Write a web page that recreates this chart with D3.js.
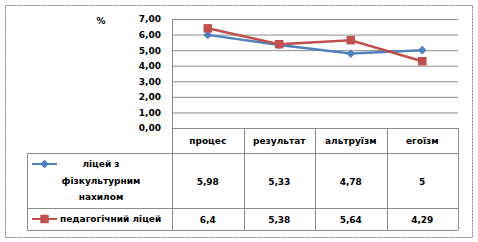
<!DOCTYPE html>
<html>
<head>
<meta charset="utf-8">
<script src="https://cdn.jsdelivr.net/npm/d3@7"></script>
<style>
  body { margin: 0; background: #fff; }
  text { font-family: "DejaVu Sans", sans-serif; font-weight: bold; font-size: 9px; fill: #000; }
</style>
</head>
<body>
<div id="chart"></div>
<script>
const categories = ["процес", "результат", "альтруїзм", "егоїзм"];
const seriesNames = [["ліцей з", "фізкультурним", "нахилом"], ["педагогічний ліцей"]];
const lyceumSport = [5.98, 5.33, 4.78, 5];
const lyceumPed = [6.4, 5.38, 5.64, 4.29];
const yTicks = [0, 1, 2, 3, 4, 5, 6, 7];

const width = 478;
const height = 242;
const plotLeft = 172, plotRight = 458, plotTop = 19, plotBottom = 128;
const legendLeft = 27;
const rowY = [128, 153, 208, 230];
const gridColor = "#8c8c8c";

const svg = d3.select("#chart").append("svg")
    .attr("width", width)
    .attr("height", height);

// chart area border
svg.append("rect")
    .attr("x", 5.5).attr("y", 5.5)
    .attr("width", 467).attr("height", 232)
    .attr("fill", "none")
    .attr("stroke", "#808080")
    .attr("stroke-dasharray", "2,1");

const x = d3.scaleBand().domain(categories).range([plotLeft, plotRight]);
const y = d3.scaleLinear().domain([0, 7]).range([plotBottom, plotTop]);

// gridlines + y labels
const yAxis = d3.axisLeft(y).tickValues(yTicks)
    .tickSize(-(plotRight - plotLeft))
    .tickPadding(11)
    .tickFormat(d => d3.format(".2f")(d).replace(".", ","));
svg.append("g")
    .attr("transform", "translate(" + plotLeft + ",0)")
    .call(yAxis)
    .call(g => g.select(".domain").attr("stroke", gridColor))
    .call(g => g.selectAll(".tick line").attr("stroke", gridColor))
    .call(g => g.selectAll(".tick text").attr("font-size", 10).attr("font-family", "DejaVu Sans").attr("font-weight", "bold"));

svg.append("text")
    .attr("x", 101).attr("y", 24)
    .attr("text-anchor", "middle")
    .attr("font-size", 10)
    .text("%");

// data table lines
const tbl = svg.append("g").attr("stroke", gridColor).attr("stroke-width", 1);
rowY.slice(1).forEach(yy => {
    tbl.append("line").attr("x1", legendLeft).attr("x2", plotRight).attr("y1", yy + 0.5).attr("y2", yy + 0.5);
});
tbl.append("line").attr("x1", legendLeft + 0.5).attr("x2", legendLeft + 0.5).attr("y1", rowY[1]).attr("y2", rowY[3]);
categories.forEach(c => {
    const xx = Math.round(x(c) + x.bandwidth()) + 0.5;
    tbl.append("line").attr("x1", xx).attr("x2", xx).attr("y1", rowY[0]).attr("y2", rowY[3]);
});
tbl.append("line").attr("x1", plotLeft + 0.5).attr("x2", plotLeft + 0.5).attr("y1", rowY[0]).attr("y2", rowY[3]);

// headers
svg.selectAll(".cat").data(categories).enter().append("text")
    .attr("x", d => x(d) + x.bandwidth() / 2)
    .attr("y", (rowY[0] + rowY[1]) / 2 + 3)
    .attr("text-anchor", "middle")
    .text(d => d);

const fmt = v => String(v).replace(".", ",");
const series = [
    { values: lyceumSport, color: "#4F81BD", marker: d3.symbolSquare, size: 38, rot: 45, names: seriesNames[0] },
    { values: lyceumPed, color: "#C0504D", marker: d3.symbolSquare, size: 72, rot: 0, names: seriesNames[1] }
];

series.forEach((s, i) => {
    const cy = (rowY[i + 1] + rowY[i + 2]) / 2;
    // values
    svg.selectAll(".v" + i).data(s.values).enter().append("text")
        .attr("x", (d, j) => x(categories[j]) + x.bandwidth() / 2)
        .attr("y", cy + 4)
        .attr("text-anchor", "middle")
        .attr("font-size", 10)
        .text(d => fmt(d));

    // line
    const line = d3.line().x((d, j) => x(categories[j]) + x.bandwidth() / 2).y(d => y(d));
    svg.append("path")
        .datum(s.values)
        .attr("d", line)
        .attr("fill", "none")
        .attr("stroke", s.color)
        .attr("stroke-width", 2.5);
    svg.selectAll(".m" + i).data(s.values).enter().append("path")
        .attr("transform", (d, j) => "translate(" + (x(categories[j]) + x.bandwidth() / 2) + "," + y(d) + ") rotate(" + s.rot + ")")
        .attr("d", d3.symbol().type(s.marker).size(s.size))
        .attr("fill", s.color);

    // legend key
    const ky = i === 0 ? 164 : cy;
    svg.append("line")
        .attr("x1", 32).attr("x2", 57).attr("y1", ky).attr("y2", ky)
        .attr("stroke", s.color).attr("stroke-width", 2);
    svg.append("path")
        .attr("transform", "translate(44.5," + ky + ") rotate(" + s.rot + ")")
        .attr("d", d3.symbol().type(s.marker).size(s.size))
        .attr("fill", s.color);

    if (s.names.length > 1) {
        s.names.forEach((n, k) => {
            svg.append("text")
                .attr("x", 101).attr("y", 167 + k * 16.5)
                .attr("text-anchor", "middle")
                .text(n);
        });
    } else {
        svg.append("text")
            .attr("x", 60).attr("y", cy + 3)
            .text(s.names[0]);
    }
});
</script>
</body>
</html>
